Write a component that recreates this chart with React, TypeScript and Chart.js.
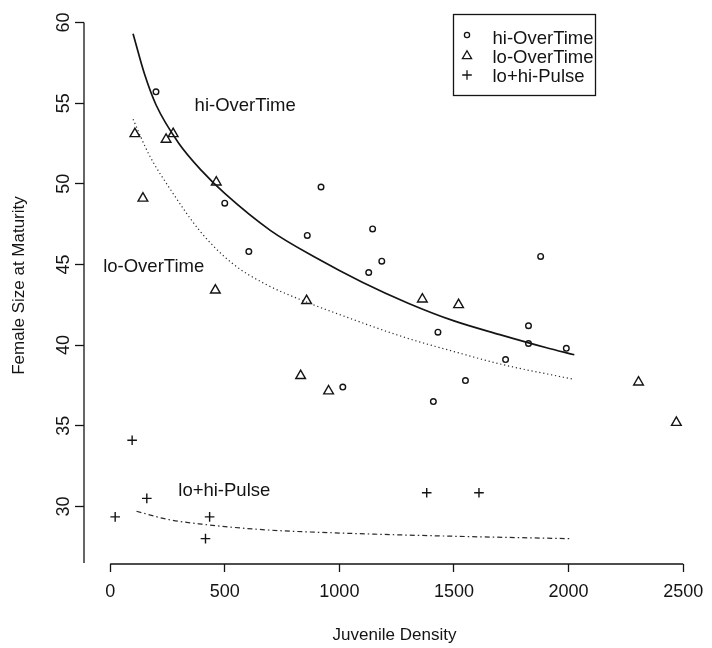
import { useEffect, useRef } from "react";
import { Chart, registerables } from "chart.js";

Chart.register(...registerables);

// Observed juvenile density vs female size at maturity
const hiDensity = [200, 500, 605, 860, 920, 1015, 1128, 1145, 1185, 1410, 1430, 1550, 1725, 1825, 1825, 1878, 1990];
const hiSize = [55.7, 48.8, 45.8, 46.8, 49.8, 37.4, 44.5, 47.2, 45.2, 36.5, 40.8, 37.8, 39.1, 41.2, 40.1, 45.5, 39.8];

const loDensity = [108, 143, 244, 275, 459, 463, 831, 857, 953, 1362, 1520, 2305, 2470];
const loSize = [53.1, 49.1, 52.75, 53.1, 43.4, 50.1, 38.1, 42.75, 37.15, 42.85, 42.5, 37.7, 35.2];

const pulseDensity = [22, 96, 160, 416, 434, 1381, 1609];
const pulseSize = [29.35, 34.1, 30.5, 28.0, 29.35, 30.85, 30.85];

// Fitted response curves
const hiFitDensity = [100, 150, 200, 300, 400, 500, 700, 900, 1100, 1300, 1500, 1700, 1900, 2025];
const hiFitSize = [59.3, 56.8, 54.9, 52.5, 50.8, 49.4, 47.1, 45.4, 43.9, 42.6, 41.5, 40.65, 39.85, 39.4];

const loFitDensity = [100, 170, 270, 390, 530, 675, 860, 1000, 1280, 1500, 1710, 2015];
const loFitSize = [54.0, 51.8, 49.5, 47.1, 45.1, 43.8, 42.65, 41.9, 40.5, 39.6, 38.8, 37.9];

const pulseFitDensity = [115, 250, 400, 675, 1000, 1500, 2015];
const pulseFitSize = [29.7, 29.2, 28.9, 28.55, 28.35, 28.15, 28.0];

const seriesNames = ["hi-OverTime", "lo-OverTime", "lo+hi-Pulse"];

const xTickValues = [0, 500, 1000, 1500, 2000, 2500];
const yTickValues = [30, 35, 40, 45, 50, 55, 60];

const FONT = "'Liberation Sans', Arial, Helvetica, sans-serif";
const INK = "#141414";

const toPoints = (xs: number[], ys: number[]) => xs.map((x, i) => ({ x, y: ys[i] }));

function drawSymbol(ctx: CanvasRenderingContext2D, kind: string, x: number, y: number) {
  ctx.save();
  ctx.strokeStyle = INK;
  ctx.lineWidth = 1.3;
  ctx.beginPath();
  if (kind === "circle") {
    ctx.arc(x, y, 2.6, 0, Math.PI * 2);
  } else if (kind === "triangle") {
    const r = 5.3;
    ctx.moveTo(x, y - r);
    ctx.lineTo(x + r * 0.866, y + r * 0.5);
    ctx.lineTo(x - r * 0.866, y + r * 0.5);
    ctx.closePath();
  } else {
    ctx.moveTo(x - 4.8, y);
    ctx.lineTo(x + 4.8, y);
    ctx.moveTo(x, y - 4.8);
    ctx.lineTo(x, y + 4.8);
  }
  ctx.stroke();
  ctx.restore();
}

const decorations = {
  id: "decorations",
  beforeDraw(chart: any) {
    const { ctx, width, height } = chart;
    ctx.save();
    ctx.fillStyle = "#ffffff";
    ctx.fillRect(0, 0, width, height);
    ctx.restore();
  },
  afterDraw(chart: any) {
    const { ctx, chartArea } = chart;
    const xs = chart.scales.x;
    const ys = chart.scales.y;
    ctx.save();

    // axis lines
    ctx.strokeStyle = INK;
    ctx.lineWidth = 1.3;
    ctx.beginPath();
    const axX = chartArea.left;
    ctx.moveTo(axX, ys.getPixelForValue(yTickValues[yTickValues.length - 1]));
    ctx.lineTo(axX, chartArea.bottom - 1);
    const axY = chartArea.bottom;
    ctx.moveTo(xs.getPixelForValue(xTickValues[0]), axY);
    ctx.lineTo(xs.getPixelForValue(xTickValues[xTickValues.length - 1]), axY);
    ctx.stroke();

    // rotated y tick labels
    ctx.fillStyle = INK;
    ctx.font = `18px ${FONT}`;
    ctx.textAlign = "center";
    ctx.textBaseline = "middle";
    for (const v of yTickValues) {
      const py = ys.getPixelForValue(v);
      ctx.save();
      ctx.translate(axX - 20, py);
      ctx.rotate(-Math.PI / 2);
      ctx.fillText(String(v), 0, 0);
      ctx.restore();
    }

    // curve labels
    ctx.font = `18.5px ${FONT}`;
    ctx.textAlign = "center";
    ctx.fillText(seriesNames[0], xs.getPixelForValue(589), ys.getPixelForValue(54.8));
    ctx.fillText(seriesNames[1], xs.getPixelForValue(190), ys.getPixelForValue(44.85));
    ctx.fillText(seriesNames[2], xs.getPixelForValue(498), ys.getPixelForValue(30.95));

    // legend box
    const bx = 453.5, by = 14.5, bw = 142, bh = 81;
    ctx.lineWidth = 1.3;
    ctx.strokeRect(bx, by, bw, bh);
    const kinds = ["circle", "triangle", "cross"];
    ctx.textAlign = "left";
    for (let i = 0; i < seriesNames.length; i++) {
      const rowY = 39 + i * 19;
      drawSymbol(ctx, kinds[i], 467, rowY - (i === 0 ? 4 : 2));
      ctx.fillStyle = INK;
      ctx.fillText(seriesNames[i], 492.5, rowY);
    }
    ctx.restore();
  },
};

export default function App() {
  const canvasRef = useRef<HTMLCanvasElement | null>(null);

  useEffect(() => {
    const canvas = canvasRef.current;
    if (!canvas) return;

    const chart = new Chart(canvas, {
      type: "scatter",
      data: {
        datasets: [
          {
            label: "hi fit",
            data: toPoints(hiFitDensity, hiFitSize),
            showLine: true,
            borderColor: INK,
            borderWidth: 1.7,
            pointRadius: 0,
            cubicInterpolationMode: "monotone",
            fill: false,
          },
          {
            label: "lo fit",
            data: toPoints(loFitDensity, loFitSize),
            showLine: true,
            borderColor: "#2a2a2a",
            borderWidth: 1.2,
            borderDash: [1.2, 2.8],
            pointRadius: 0,
            cubicInterpolationMode: "monotone",
            fill: false,
          },
          {
            label: "pulse fit",
            data: toPoints(pulseFitDensity, pulseFitSize),
            showLine: true,
            borderColor: "#2a2a2a",
            borderWidth: 1.2,
            borderDash: [5, 3, 1.5, 3],
            pointRadius: 0,
            cubicInterpolationMode: "monotone",
            fill: false,
          },
          {
            label: seriesNames[0],
            data: toPoints(hiDensity, hiSize),
            pointStyle: "circle",
            pointRadius: 2.8,
            borderColor: INK,
            borderWidth: 1.4,
            backgroundColor: "rgba(0,0,0,0)",
          },
          {
            label: seriesNames[1],
            data: toPoints(loDensity, loSize),
            pointStyle: "triangle",
            pointRadius: 5.6,
            borderColor: INK,
            borderWidth: 1.4,
            backgroundColor: "rgba(0,0,0,0)",
          },
          {
            label: seriesNames[2],
            data: toPoints(pulseDensity, pulseSize),
            pointStyle: "cross",
            pointRadius: 4.8,
            borderColor: INK,
            borderWidth: 1.4,
            backgroundColor: "rgba(0,0,0,0)",
          },
        ],
      },
      options: {
        responsive: false,
        animation: false,
        events: [],
        layout: { padding: 0 },
        plugins: {
          legend: { display: false },
          tooltip: { enabled: false },
        },
        scales: {
          x: {
            type: "linear",
            min: -114,
            max: 2595,
            afterBuildTicks: (s: any) => {
              s.ticks = xTickValues.map((value) => ({ value }));
            },
            afterFit: (s: any) => {
              s.height = 84;
              s.paddingLeft = 0;
              s.paddingRight = 0;
            },
            border: { display: false },
            grid: {
              display: true,
              drawOnChartArea: false,
              drawTicks: true,
              tickLength: 8,
              tickColor: INK,
              tickWidth: 1.3,
            },
            ticks: {
              color: INK,
              padding: 9,
              maxRotation: 0,
              autoSkip: false,
              font: { family: FONT, size: 18 },
              callback: (v: any) => String(v),
            },
            title: {
              display: true,
              text: "Juvenile Density",
              color: INK,
              font: { family: FONT, size: 17 },
              padding: { top: 0, bottom: 2 },
            },
          },
          y: {
            type: "linear",
            min: 26.43,
            max: 60.96,
            afterBuildTicks: (s: any) => {
              s.ticks = yTickValues.map((value) => ({ value }));
            },
            afterFit: (s: any) => {
              s.width = 84;
              s.paddingTop = 0;
              s.paddingBottom = 0;
            },
            border: { display: false },
            grid: {
              display: true,
              drawOnChartArea: false,
              drawTicks: true,
              tickLength: 9,
              tickColor: INK,
              tickWidth: 1.3,
            },
            ticks: { display: false },
            title: {
              display: true,
              text: "Female Size at Maturity",
              color: INK,
              font: { family: FONT, size: 17 },
              padding: { top: 9, bottom: 0 },
            },
          },
        },
      },
      plugins: [decorations],
    } as any);

    return () => chart.destroy();
  }, []);

  return (
    <div style={{ position: "fixed", left: 0, top: 0, width: 712, height: 648, background: "#fff" }}>
      <canvas ref={canvasRef} width={712} height={648} style={{ display: "block" }} />
    </div>
  );
}
